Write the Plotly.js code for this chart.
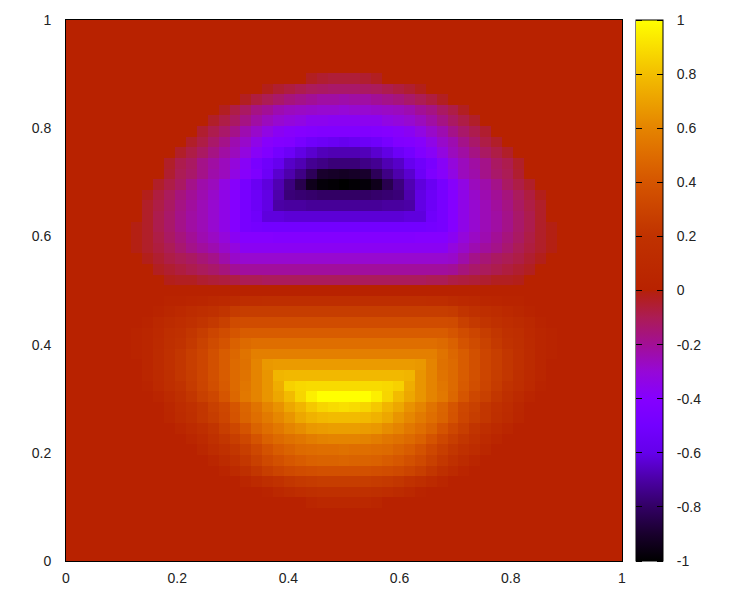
<!DOCTYPE html>
<html>
<head>
<meta charset="utf-8">
<script src="https://cdn.plot.ly/plotly-3.0.1.min.js"></script>
<style>
  body { margin: 0; background: #fff; }
  #chart { width: 750px; height: 600px; }
</style>
</head>
<body>
<div id="chart"></div>
<script>
// values, 51 x 51 cells, row 0 is the top one
var tickValues = [0, 0.2, 0.4, 0.6, 0.8, 1];
var tickLabels = ["0", "0.2", "0.4", "0.6", "0.8", "1"];
var barTickValues = [-1, -0.8, -0.6, -0.4, -0.2, 0, 0.2, 0.4, 0.6, 0.8, 1];
var barTickLabels = ["-1", "-0.8", "-0.6", "-0.4", "-0.2", "0", "0.2", "0.4", "0.6", "0.8", "1"];

var blank = [0,0,0,0,0,0,0,0,0,0,0,0,0,0,0,0,0,0,0,0,0,0,0,0,0,0,0,0,0,0,0,0,0,0,0,0,0,0,0,0,0,0,0,0,0,0,0,0,0,0,0];

var topRows = [
  blank, blank, blank, blank, blank,
  [0,0,0,0,0,0,0,0,0,0,0,0,0,0,0,0,0,0,0,0,0,0,-.03,-.05,-.06,-.06,-.06,-.05,-.03,0,0,0,0,0,0,0,0,0,0,0,0,0,0,0,0,0,0,0,0,0,0],
  [0,0,0,0,0,0,0,0,0,0,0,0,0,0,0,0,0,0,-.02,-.05,-.07,-.09,-.11,-.12,-.13,-.13,-.13,-.12,-.11,-.09,-.07,-.05,-.02,0,0,0,0,0,0,0,0,0,0,0,0,0,0,0,0,0,0],
  [0,0,0,0,0,0,0,0,0,0,0,0,0,0,0,0,-.03,-.07,-.1,-.13,-.16,-.18,-.2,-.22,-.22,-.23,-.22,-.22,-.2,-.18,-.16,-.13,-.1,-.07,-.03,0,0,0,0,0,0,0,0,0,0,0,0,0,0,0,0],
  [0,0,0,0,0,0,0,0,0,0,0,0,0,0,-.03,-.08,-.12,-.17,-.2,-.24,-.26,-.27,-.28,-.29,-.29,-.3,-.29,-.29,-.28,-.27,-.26,-.24,-.2,-.17,-.12,-.08,-.03,0,0,0,0,0,0,0,0,0,0,0,0,0,0],
  [0,0,0,0,0,0,0,0,0,0,0,0,0,-.04,-.08,-.12,-.17,-.22,-.26,-.29,-.31,-.33,-.36,-.36,-.37,-.37,-.37,-.36,-.36,-.33,-.31,-.29,-.26,-.22,-.17,-.12,-.08,-.04,0,0,0,0,0,0,0,0,0,0,0,0,0],
  [0,0,0,0,0,0,0,0,0,0,0,0,-.05,-.09,-.13,-.18,-.24,-.28,-.33,-.37,-.39,-.4,-.41,-.42,-.42,-.42,-.42,-.42,-.41,-.4,-.39,-.37,-.33,-.28,-.24,-.18,-.13,-.09,-.05,0,0,0,0,0,0,0,0,0,0,0,0],
  [0,0,0,0,0,0,0,0,0,0,0,-.04,-.08,-.13,-.18,-.24,-.28,-.34,-.39,-.41,-.42,-.47,-.52,-.54,-.56,-.58,-.56,-.54,-.52,-.47,-.42,-.41,-.39,-.34,-.28,-.24,-.18,-.13,-.08,-.04,0,0,0,0,0,0,0,0,0,0,0],
  [0,0,0,0,0,0,0,0,0,0,-.04,-.08,-.12,-.17,-.22,-.26,-.32,-.38,-.42,-.49,-.54,-.61,-.64,-.67,-.68,-.68,-.68,-.67,-.64,-.61,-.54,-.49,-.42,-.38,-.32,-.26,-.22,-.17,-.12,-.08,-.04,0,0,0,0,0,0,0,0,0,0],
  [0,0,0,0,0,0,0,0,0,-.04,-.09,-.12,-.18,-.22,-.26,-.31,-.38,-.46,-.52,-.58,-.65,-.68,-.73,-.75,-.77,-.77,-.77,-.75,-.73,-.68,-.65,-.58,-.52,-.46,-.38,-.31,-.26,-.22,-.18,-.12,-.09,-.04,0,0,0,0,0,0,0,0,0],
  [0,0,0,0,0,0,0,0,0,-.05,-.1,-.13,-.18,-.23,-.26,-.33,-.39,-.44,-.54,-.64,-.69,-.75,-.82,-.9,-.91,-.92,-.91,-.9,-.82,-.75,-.69,-.64,-.54,-.44,-.39,-.33,-.26,-.23,-.18,-.13,-.1,-.05,0,0,0,0,0,0,0,0,0],
  [0,0,0,0,0,0,0,0,-.04,-.08,-.12,-.18,-.23,-.26,-.33,-.39,-.47,-.56,-.62,-.68,-.76,-.84,-.94,-.98,-.99,-1,-.99,-.98,-.94,-.84,-.76,-.68,-.62,-.56,-.47,-.39,-.33,-.26,-.23,-.18,-.12,-.08,-.04,0,0,0,0,0,0,0,0],
  [0,0,0,0,0,0,0,-.02,-.07,-.11,-.16,-.2,-.24,-.28,-.34,-.4,-.47,-.54,-.61,-.69,-.77,-.78,-.79,-.8,-.8,-.8,-.8,-.8,-.79,-.78,-.77,-.69,-.61,-.54,-.47,-.4,-.34,-.28,-.24,-.2,-.16,-.11,-.07,-.02,0,0,0,0,0,0,0],
  [0,0,0,0,0,0,0,-.04,-.08,-.12,-.17,-.21,-.25,-.29,-.34,-.4,-.47,-.54,-.61,-.7,-.71,-.71,-.72,-.72,-.72,-.72,-.72,-.72,-.72,-.71,-.71,-.7,-.61,-.54,-.47,-.4,-.34,-.29,-.25,-.21,-.17,-.12,-.08,-.04,0,0,0,0,0,0,0],
  [0,0,0,0,0,0,0,-.04,-.09,-.13,-.18,-.22,-.25,-.29,-.34,-.4,-.47,-.52,-.62,-.62,-.63,-.63,-.63,-.63,-.63,-.63,-.63,-.63,-.63,-.63,-.63,-.62,-.62,-.52,-.47,-.4,-.34,-.29,-.25,-.22,-.18,-.13,-.09,-.04,0,0,0,0,0,0,0],
  [0,0,0,0,0,0,-.01,-.04,-.09,-.13,-.18,-.22,-.25,-.29,-.34,-.4,-.47,-.49,-.5,-.5,-.5,-.5,-.5,-.5,-.5,-.5,-.5,-.5,-.5,-.5,-.5,-.5,-.5,-.49,-.47,-.4,-.34,-.29,-.25,-.22,-.18,-.13,-.09,-.04,-.01,0,0,0,0,0,0],
  [0,0,0,0,0,0,-.01,-.04,-.08,-.12,-.16,-.2,-.24,-.27,-.31,-.37,-.4,-.4,-.4,-.41,-.41,-.41,-.41,-.41,-.41,-.41,-.41,-.41,-.41,-.41,-.41,-.41,-.4,-.4,-.4,-.37,-.31,-.27,-.24,-.2,-.16,-.12,-.08,-.04,-.01,0,0,0,0,0,0],
  [0,0,0,0,0,0,-.01,-.04,-.07,-.1,-.14,-.18,-.21,-.24,-.28,-.32,-.37,-.37,-.37,-.37,-.37,-.37,-.37,-.37,-.37,-.37,-.37,-.37,-.37,-.37,-.37,-.37,-.37,-.37,-.37,-.32,-.28,-.24,-.21,-.18,-.14,-.1,-.07,-.04,-.01,0,0,0,0,0,0],
  [0,0,0,0,0,0,0,-.02,-.05,-.08,-.1,-.12,-.15,-.18,-.23,-.28,-.29,-.29,-.29,-.29,-.29,-.29,-.29,-.29,-.29,-.29,-.29,-.29,-.29,-.29,-.29,-.29,-.29,-.29,-.29,-.28,-.23,-.18,-.15,-.12,-.1,-.08,-.05,-.02,0,0,0,0,0,0,0],
  [0,0,0,0,0,0,0,0,-.03,-.05,-.07,-.09,-.11,-.13,-.16,-.2,-.21,-.21,-.21,-.21,-.21,-.21,-.21,-.21,-.21,-.21,-.21,-.21,-.21,-.21,-.21,-.21,-.21,-.21,-.21,-.2,-.16,-.13,-.11,-.09,-.07,-.05,-.03,0,0,0,0,0,0,0,0],
  [0,0,0,0,0,0,0,0,0,-.02,-.03,-.03,-.05,-.06,-.07,-.08,-.1,-.1,-.11,-.11,-.11,-.11,-.11,-.11,-.11,-.11,-.11,-.11,-.11,-.11,-.11,-.11,-.11,-.1,-.1,-.08,-.07,-.06,-.05,-.03,-.03,-.02,0,0,0,0,0,0,0,0,0],
  blank
];

var bottomRows = [
  [0,0,0,0,0,0,0,0,0,.02,.03,.04,.05,.07,.09,.11,.14,.14,.15,.15,.15,.15,.15,.15,.15,.15,.15,.15,.15,.15,.15,.15,.15,.14,.14,.11,.09,.07,.05,.04,.03,.02,0,0,0,0,0,0,0,0,0],
  [0,0,0,0,0,0,0,0,.03,.06,.09,.12,.15,.18,.21,.25,.26,.26,.26,.26,.26,.26,.26,.26,.26,.26,.26,.26,.26,.26,.26,.26,.26,.26,.26,.25,.21,.18,.15,.12,.09,.06,.03,0,0,0,0,0,0,0,0],
  [0,0,0,0,0,0,0,.03,.07,.11,.14,.17,.21,.24,.28,.34,.35,.35,.35,.35,.35,.35,.35,.35,.35,.35,.35,.35,.35,.35,.35,.35,.35,.35,.35,.34,.28,.24,.21,.17,.14,.11,.07,.03,0,0,0,0,0,0,0],
  [0,0,0,0,0,0,.02,.05,.09,.15,.18,.22,.26,.31,.35,.4,.43,.43,.43,.43,.43,.43,.43,.43,.43,.43,.43,.43,.43,.43,.43,.43,.43,.43,.43,.4,.35,.31,.26,.22,.18,.15,.09,.05,.02,0,0,0,0,0,0],
  [0,0,0,0,0,0,.02,.05,.1,.16,.2,.24,.29,.34,.39,.45,.49,.51,.51,.51,.51,.51,.51,.51,.51,.51,.51,.51,.51,.51,.51,.51,.51,.51,.49,.45,.39,.34,.29,.24,.2,.16,.1,.05,.02,0,0,0,0,0,0],
  [0,0,0,0,0,0,.02,.05,.11,.17,.22,.27,.31,.37,.43,.48,.53,.58,.58,.58,.58,.58,.58,.58,.58,.58,.58,.58,.58,.58,.58,.58,.58,.58,.53,.48,.43,.37,.31,.27,.22,.17,.11,.05,.02,0,0,0,0,0,0],
  [0,0,0,0,0,0,0,.05,.11,.17,.22,.27,.31,.37,.43,.49,.52,.6,.67,.68,.68,.68,.68,.68,.68,.68,.68,.68,.68,.68,.68,.68,.67,.6,.52,.49,.43,.37,.31,.27,.22,.17,.11,.05,0,0,0,0,0,0,0],
  [0,0,0,0,0,0,0,.05,.1,.16,.22,.26,.31,.37,.43,.49,.53,.6,.66,.77,.78,.78,.78,.78,.78,.78,.78,.78,.78,.78,.78,.77,.66,.6,.53,.49,.43,.37,.31,.26,.22,.16,.1,.05,0,0,0,0,0,0,0],
  [0,0,0,0,0,0,0,.03,.09,.15,.2,.25,.3,.36,.42,.49,.54,.6,.66,.74,.86,.88,.89,.89,.89,.89,.89,.89,.89,.88,.86,.74,.66,.6,.54,.49,.42,.36,.3,.25,.2,.15,.09,.03,0,0,0,0,0,0,0],
  [0,0,0,0,0,0,0,0,.04,.1,.16,.22,.28,.32,.4,.48,.55,.6,.66,.72,.79,.87,.95,1,1,1,1,1,.95,.87,.79,.72,.66,.6,.55,.48,.4,.32,.28,.22,.16,.1,.04,0,0,0,0,0,0,0,0],
  [0,0,0,0,0,0,0,0,0,.06,.13,.18,.22,.28,.32,.4,.47,.53,.6,.65,.72,.77,.83,.87,.89,.9,.89,.87,.83,.77,.72,.65,.6,.53,.47,.4,.32,.28,.22,.18,.13,.06,0,0,0,0,0,0,0,0,0],
  [0,0,0,0,0,0,0,0,0,.05,.11,.16,.22,.26,.31,.39,.46,.51,.56,.61,.66,.72,.76,.78,.79,.79,.79,.78,.76,.72,.66,.61,.56,.51,.46,.39,.31,.26,.22,.16,.11,.05,0,0,0,0,0,0,0,0,0],
  [0,0,0,0,0,0,0,0,0,0,.05,.1,.15,.21,.27,.32,.39,.46,.51,.55,.6,.63,.67,.68,.69,.69,.69,.68,.67,.63,.6,.55,.51,.46,.39,.32,.27,.21,.15,.1,.05,0,0,0,0,0,0,0,0,0,0],
  [0,0,0,0,0,0,0,0,0,0,0,.05,.1,.17,.22,.27,.32,.39,.45,.49,.52,.54,.57,.59,.6,.6,.6,.59,.57,.54,.52,.49,.45,.39,.32,.27,.22,.17,.1,.05,0,0,0,0,0,0,0,0,0,0,0],
  [0,0,0,0,0,0,0,0,0,0,0,0,.06,.12,.18,.22,.27,.32,.38,.43,.46,.49,.5,.51,.51,.52,.51,.51,.5,.49,.46,.43,.38,.32,.27,.22,.18,.12,.06,0,0,0,0,0,0,0,0,0,0,0,0],
  [0,0,0,0,0,0,0,0,0,0,0,0,0,.05,.11,.17,.23,.28,.33,.37,.41,.43,.45,.46,.46,.47,.46,.46,.45,.43,.41,.37,.33,.28,.23,.17,.11,.05,0,0,0,0,0,0,0,0,0,0,0,0,0],
  [0,0,0,0,0,0,0,0,0,0,0,0,0,0,.04,.1,.16,.22,.27,.3,.33,.35,.36,.37,.37,.37,.37,.37,.36,.35,.33,.3,.27,.22,.16,.1,.04,0,0,0,0,0,0,0,0,0,0,0,0,0,0],
  [0,0,0,0,0,0,0,0,0,0,0,0,0,0,0,0,.05,.1,.15,.19,.22,.24,.25,.26,.26,.26,.26,.26,.25,.24,.22,.19,.15,.1,.05,0,0,0,0,0,0,0,0,0,0,0,0,0,0,0,0],
  [0,0,0,0,0,0,0,0,0,0,0,0,0,0,0,0,0,0,.03,.07,.11,.14,.16,.17,.18,.18,.18,.17,.16,.14,.11,.07,.03,0,0,0,0,0,0,0,0,0,0,0,0,0,0,0,0,0,0],
  [0,0,0,0,0,0,0,0,0,0,0,0,0,0,0,0,0,0,0,0,0,0,.05,.07,.08,.08,.08,.07,.05,0,0,0,0,0,0,0,0,0,0,0,0,0,0,0,0,0,0,0,0,0,0],
  blank, blank, blank, blank, blank
];

var palette = [
  [0, "rgb(0,0,0)"],
  [0.05, "rgb(25,0,45)"],
  [0.1, "rgb(50,0,100)"],
  [0.15, "rgb(75,0,165)"],
  [0.2, "rgb(100,0,235)"],
  [0.25, "rgb(115,0,255)"],
  [0.3, "rgb(133,0,255)"],
  [0.35, "rgb(150,8,215)"],
  [0.4, "rgb(162,15,150)"],
  [0.45, "rgb(172,28,85)"],
  [0.4975, "rgb(180,32,15)"],
  [0.5, "rgb(184,34,0)"],
  [0.6, "rgb(192,50,0)"],
  [0.7, "rgb(213,85,0)"],
  [0.75, "rgb(222,108,0)"],
  [0.8, "rgb(229,132,0)"],
  [0.9, "rgb(243,190,0)"],
  [1, "rgb(255,255,0)"]
];

var plotFont = { family: "Liberation Sans, Arial, sans-serif", size: 14, color: "#222" };

var zValues = topRows.concat(bottomRows).reverse();

var heat = {
  type: "heatmap",
  z: zValues,
  x0: 1 / 102,
  dx: 1 / 51,
  y0: 1 / 102,
  dy: 1 / 51,
  zmin: -1,
  zmax: 1,
  colorscale: palette,
  colorbar: {
    x: 1.0252,
    xanchor: "left",
    y: 0.5,
    yanchor: "middle",
    len: 1,
    thickness: 27,
    thicknessmode: "pixels",
    xpad: 0,
    ypad: 0,
    outlinewidth: 1,
    outlinecolor: "#000",
    tickmode: "array",
    tickvals: barTickValues,
    ticktext: barTickLabels,
    ticks: "outside",
    ticklen: 11,
    tickcolor: "rgba(0,0,0,0)",
    tickfont: plotFont
  }
};

// same data, invisible, only there to put tics on the colour box
function ticBar(xPos) {
  return {
    type: "heatmap",
    z: zValues,
    x0: 1 / 102,
    dx: 1 / 51,
    y0: 1 / 102,
    dy: 1 / 51,
    zmin: -1,
    zmax: 1,
    opacity: 0,
    hoverinfo: "skip",
    colorscale: palette,
    colorbar: {
      x: xPos,
      xanchor: "left",
      y: 0.5,
      yanchor: "middle",
      len: 1,
      thickness: 0,
      xpad: 0,
      ypad: 0,
      outlinewidth: 0,
      tickmode: "array",
      tickvals: barTickValues,
      ticks: "outside",
      ticklen: 6,
      tickcolor: "#000",
      showticklabels: false
    }
  };
}

var layout = {
  width: 750,
  height: 600,
  paper_bgcolor: "#fff",
  plot_bgcolor: "#fff",
  margin: { l: 65.5, r: 128, t: 20, b: 39, pad: 0 },
  font: plotFont,
  showlegend: false,
  xaxis: {
    range: [0, 1],
    tickmode: "array",
    tickvals: tickValues,
    ticktext: tickLabels,
    ticks: "",
    showgrid: false,
    zeroline: false,
    showline: true,
    mirror: true,
    linecolor: "#000",
    linewidth: 1,
    ticklabelstandoff: 4
  },
  yaxis: {
    range: [0, 1],
    tickmode: "array",
    tickvals: tickValues,
    ticktext: tickLabels,
    ticks: "",
    showgrid: false,
    zeroline: false,
    showline: true,
    mirror: true,
    linecolor: "#000",
    linewidth: 1,
    ticklabelstandoff: 11
  }
};

Plotly.newPlot("chart", [heat, ticBar(1.0252), ticBar(1.0629)], layout, { displayModeBar: false });
</script>
</body>
</html>
